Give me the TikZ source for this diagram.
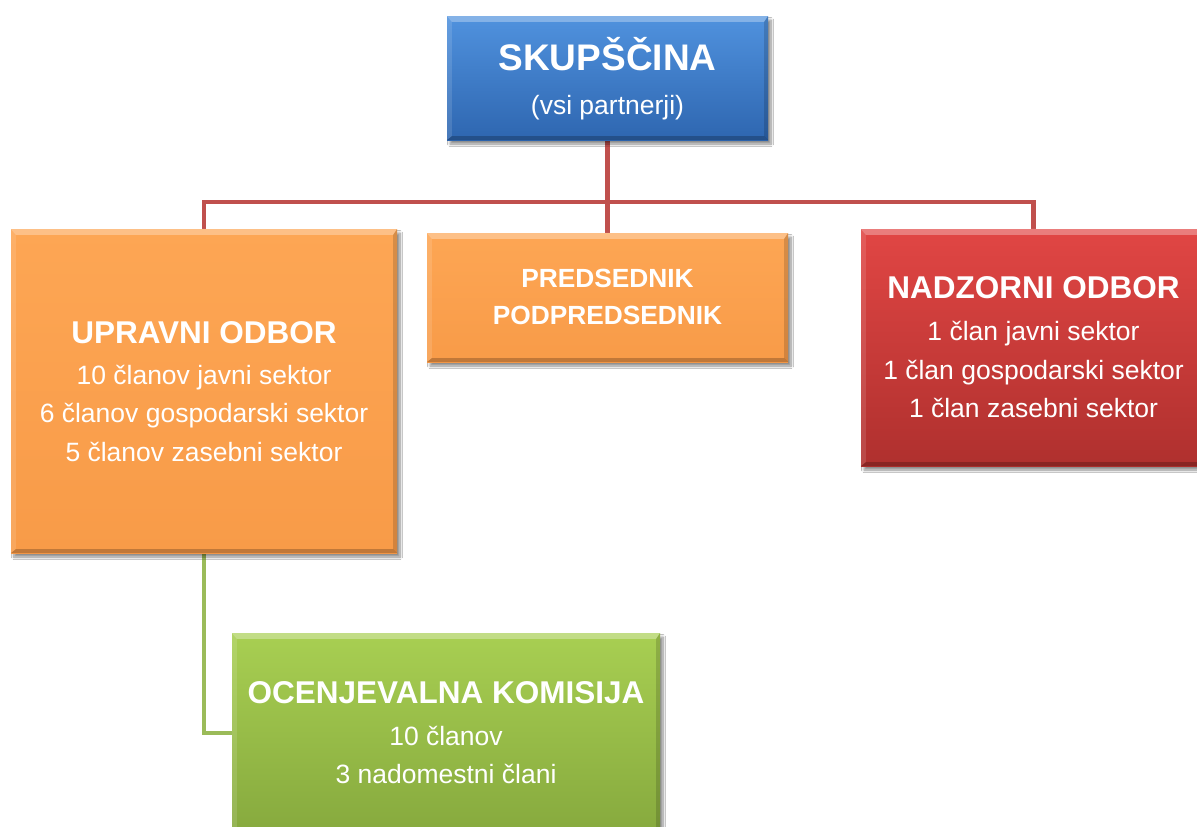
\documentclass[tikz,border=0pt]{standalone}
\usepackage{fontspec}
\setmainfont{Liberation Sans}
\usetikzlibrary{calc,backgrounds,shadows.blur}
\definecolor{blueT}{RGB}{80,146,222}
\definecolor{blueB}{RGB}{46,102,176}
\definecolor{orT}{RGB}{253,166,84}
\definecolor{orB}{RGB}{248,155,72}
\definecolor{redT}{RGB}{225,70,68}
\definecolor{redB}{RGB}{175,48,46}
\definecolor{grT}{RGB}{168,207,82}
\definecolor{grB}{RGB}{128,162,58}
\definecolor{lineRed}{RGB}{192,80,77}
\definecolor{lineGreen}{RGB}{155,187,89}
\tikzset{
  box/.style={rectangle, inner sep=0pt, draw=none,
    blur shadow={shadow xshift=3pt, shadow yshift=-4pt, shadow blur radius=2.5pt, shadow blur steps=8, shadow opacity=45}},
  ttl/.style={anchor=base, inner sep=0pt, text=white, font=\bfseries\fontsize{31.5}{36}\selectfont},
  bdy/.style={anchor=base, inner sep=0pt, text=white, font=\fontsize{26.5}{32}\selectfont},
  redline/.style={draw=lineRed, line width=4.5pt},
  greenline/.style={draw=lineGreen, line width=4.5pt},
}
\newcommand\mybevel[1]{%
  \fill[white,opacity=.30] (#1.north west) -- (#1.north east) -- ([shift={(-4,6)}]#1.north east) -- ([shift={(5,6)}]#1.north west) -- cycle;
  \fill[white,opacity=.12] (#1.north west) -- ([shift={(5,6)}]#1.north west) -- ([shift={(5,-4)}]#1.south west) -- (#1.south west) -- cycle;
  \fill[black,opacity=.15] (#1.north east) -- ([shift={(-4,6)}]#1.north east) -- ([shift={(-4,-4)}]#1.south east) -- (#1.south east) -- cycle;
  \fill[black,opacity=.22] (#1.south west) -- ([shift={(5,-4)}]#1.south west) -- ([shift={(-4,-4)}]#1.south east) -- (#1.south east) -- cycle;
}
\begin{document}
\begin{tikzpicture}[x=1pt,y=-1pt]
\useasboundingbox (0,0) rectangle (1197,827);

% boxes
\node[box, top color=blueT, bottom color=blueB, minimum width=321pt, minimum height=124pt] (S) at (607.5,78) {};
\mybevel{S}
\node[box, top color=orT, bottom color=orB, minimum width=386pt, minimum height=324pt] (U) at (204,391) {};
\mybevel{U}
\node[box, top color=orT, bottom color=orB, minimum width=361pt, minimum height=129pt] (P) at (607.5,297.5) {};
\mybevel{P}
\node[box, top color=redT, bottom color=redB, minimum width=345pt, minimum height=237pt] (N) at (1033.5,347.5) {};
\mybevel{N}
\node[box, top color=grT, bottom color=grB, minimum width=428pt, minimum height=240pt] (O) at (446,753) {};
\mybevel{O}

% texts
\node[ttl, font=\bfseries\fontsize{37}{42}\selectfont] (s1) at (607.5,70) {SKUPŠČINA};
\node[bdy] (s2) at (607.5,114) {(vsi partnerji)};

\node[ttl] (u1) at (204,343) {UPRAVNI ODBOR};
\node[bdy] (u2) at (204,384) {10 članov javni sektor};
\node[bdy] (u3) at (204,422.5) {6 članov gospodarski sektor};
\node[bdy] (u4) at (204,461) {5 članov zasebni sektor};

\node[ttl, font=\bfseries\fontsize{26.3}{32}\selectfont] (p1) at (607.5,287) {PREDSEDNIK};
\node[ttl, font=\bfseries\fontsize{26.3}{32}\selectfont] (p2) at (607.5,324) {PODPREDSEDNIK};

\node[ttl] (n1) at (1033.5,298) {NADZORNI ODBOR};
\node[bdy] (n2) at (1033.5,340) {1 član javni sektor};
\node[bdy] (n3) at (1033.5,379) {1 član gospodarski sektor};
\node[bdy] (n4) at (1033.5,417) {1 član zasebni sektor};

\node[ttl] (o1) at (446,703) {OCENJEVALNA KOMISIJA};
\node[bdy] (o2) at (446,745) {10 članov};
\node[bdy] (o3) at (446,783) {3 nadomestni člani};

% connectors
\coordinate (bus) at (607.5,202);
\coordinate (ojoin) at ($(O.north west)+(0,100)$);
\begin{scope}[on background layer]
\fill[white] (0,0) rectangle (1197,827);
\draw[redline] (S.south) -- (P.north);
\draw[redline] (U.north) |- (bus) -| (N.north);
\draw[greenline] (U.south) |- (ojoin);
\end{scope}
\end{tikzpicture}
\end{document}
